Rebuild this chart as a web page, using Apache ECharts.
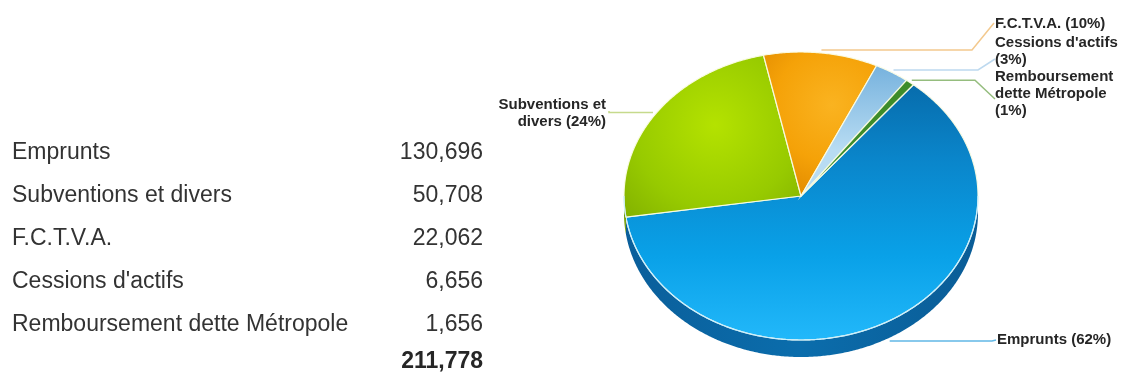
<!DOCTYPE html>
<html>
<head>
<meta charset="utf-8">
<script src="https://cdn.jsdelivr.net/npm/echarts@6/dist/echarts.min.js"></script>
<style>
  html, body { margin: 0; padding: 0; background: #ffffff; }
  #chart { width: 1128px; height: 376px; }
</style>
</head>
<body>
<div id="chart"></div>
<script>
// Recettes d'investissement
const categories = ['Emprunts', 'Subventions et divers', 'F.C.T.V.A.', "Cessions d'actifs", 'Remboursement dette Métropole'];
const amounts = [130696, 50708, 22062, 6656, 1656];
// Slice captions (line breaks as shown next to the pie)
const sliceNames = ['Emprunts', 'Subventions et\ndivers', 'F.C.T.V.A.', "Cessions d'actifs\n", 'Remboursement\ndette Métropole\n'];

const total = amounts.reduce((a, b) => a + b, 0);
const cumulative = amounts.map((_, i) => amounts.slice(0, i).reduce((a, b) => a + b, 0));
const fmt = v => String(v).replace(/\B(?=(\d{3})+(?!\d))/g, ',');

// ---- layout ----
const TABLE = { labelX: 12, valueX: 483, firstY: 153, step: 43, totalY: 362 };
const TABLE_FONT = '23px "Liberation Sans", Arial, sans-serif';
const PIE = { cx: 801, cy: 196, rx: 177, ry: 144, depth: 17, startAngle: 50.6 };
const LABEL_FONT = 'bold 15px "Liberation Sans", Arial, sans-serif';

// where each caption sits and how its leader line bends
const captionLayout = [
  { x: 997, y: 340, align: 'left',  elbowX: 992, end: [996, 340] },
  { x: 606, y: 113, align: 'right', elbowX: 609, end: [609, 111] },
  { x: 995, y: 24,  align: 'left',  elbowX: 972, end: [994, 23] },
  { x: 995, y: 51,  align: 'left',  elbowX: 978, end: [995, 59] },
  { x: 995, y: 94,  align: 'left',  elbowX: 975, end: [995, 99] }
];
const leaderColors = ['#62b8e6', '#c6da8c', '#f3c98e', '#bdd9ef', '#95bd7e'];

const G = echarts.graphic;
const topFills = [
  new G.LinearGradient(0, 60, 0, 340, [
    { offset: 0, color: '#0664a2' },
    { offset: 0.35, color: '#0a85ca' },
    { offset: 0.7, color: '#09a1e8' },
    { offset: 1, color: '#22b8fa' }
  ], true),
  new G.RadialGradient(715, 125, 150, [
    { offset: 0, color: '#b4e200' },
    { offset: 0.55, color: '#97ca00' },
    { offset: 1, color: '#79a600' }
  ], true),
  new G.RadialGradient(832, 105, 95, [
    { offset: 0, color: '#fab320' },
    { offset: 0.6, color: '#f5a208' },
    { offset: 1, color: '#e38c00' }
  ], true),
  new G.LinearGradient(0, 60, 0, 150, [
    { offset: 0, color: '#72afdc' },
    { offset: 1, color: '#b8dcf3' }
  ], true),
  '#3d8c2a'
];
const sideFills = [
  new G.LinearGradient(620, 0, 980, 0, [
    { offset: 0, color: '#0a5e9a' },
    { offset: 0.5, color: '#0b6dac' },
    { offset: 1, color: '#0a5c96' }
  ], true),
  '#6f9a00', '#c97a00', '#5f95bd', '#2e6e1f'
];

function pt(deg, dy) {
  const r = deg * Math.PI / 180;
  return [PIE.cx + PIE.rx * Math.cos(r), PIE.cy - PIE.ry * Math.sin(r) + (dy || 0)];
}
function arc(from, to, dy) {
  const n = Math.max(2, Math.ceil(Math.abs(from - to) * 2));
  const pts = [];
  for (let k = 0; k <= n; k++) pts.push(pt(from + (to - from) * k / n, dy));
  return pts;
}

function renderSlice(params, api) {
  const i = params.dataIndex;
  const v = api.value(0);
  const a0 = PIE.startAngle - cumulative[i] / total * 360;
  const a1 = a0 - v / total * 360;
  const walls = [], rims = [];

  // front wall: the part of the slice on the lower half of the ellipse
  for (let k = -1; k <= 1; k++) {
    const lo = 360 * k - 180, hi = 360 * k;
    const s = Math.min(a0, hi), e = Math.max(a1, lo);
    if (s > e) {
      const top = arc(s, e, 0);
      const bottom = arc(e, s, PIE.depth);
      walls.push({ type: 'polygon', shape: { points: top.concat(bottom) }, style: { fill: sideFills[i] } });
      rims.push({ type: 'polyline', shape: { points: top }, style: { stroke: 'rgba(200,238,255,0.95)', lineWidth: 1.2, fill: null } });
    }
  }

  const face = {
    type: 'polygon',
    shape: { points: [[PIE.cx, PIE.cy]].concat(arc(a0, a1, 0)) },
    style: { fill: topFills[i], stroke: 'rgba(250,252,228,0.95)', lineWidth: 1.2 }
  };

  // leader line from the rim at the slice's mid angle
  const mid = (a0 + a1) / 2;
  const lower = Math.sin(mid * Math.PI / 180) < 0;
  const r = mid * Math.PI / 180;
  const rim = pt(mid, lower ? PIE.depth : 0);
  const start = [rim[0] + 3 * Math.cos(r), rim[1] - 3 * Math.sin(r)];
  const lay = captionLayout[i];
  const leader = {
    type: 'polyline',
    shape: { points: [start, [lay.elbowX, start[1]], lay.end] },
    style: { stroke: leaderColors[i], lineWidth: 1.5, fill: null }
  };

  const pct = Math.round(v / total * 100);
  const name = sliceNames[i];
  const caption = name + (name.endsWith('\n') ? '' : ' ') + '(' + pct + '%)';
  const text = {
    type: 'text',
    style: {
      text: caption, x: lay.x, y: lay.y,
      font: LABEL_FONT, fill: '#262626',
      align: lay.align, verticalAlign: 'middle', lineHeight: 17
    }
  };

  return { type: 'group', children: walls.concat([face], rims, [leader, text]) };
}

// ---- table on the left ----
const tableElements = [];
categories.forEach((c, i) => {
  const y = TABLE.firstY + TABLE.step * i;
  tableElements.push({
    type: 'text', x: TABLE.labelX, y: y,
    style: { text: c, font: TABLE_FONT, fill: '#333333', align: 'left', verticalAlign: 'middle' }
  });
  tableElements.push({
    type: 'text', x: TABLE.valueX, y: y,
    style: { text: fmt(amounts[i]), font: TABLE_FONT, fill: '#333333', align: 'right', verticalAlign: 'middle' }
  });
});
tableElements.push({
  type: 'text', x: TABLE.valueX, y: TABLE.totalY,
  style: { text: fmt(total), font: 'bold ' + TABLE_FONT, fill: '#262626', align: 'right', verticalAlign: 'middle' }
});

const chart = echarts.init(document.getElementById('chart'), null, { renderer: 'canvas' });
chart.setOption({
  backgroundColor: '#ffffff',
  animation: false,
  graphic: { elements: tableElements },
  series: [{
    type: 'custom',
    coordinateSystem: 'none',
    renderItem: renderSlice,
    data: amounts.map((v, i) => [v, i])
  }]
});
</script>
</body>
</html>
